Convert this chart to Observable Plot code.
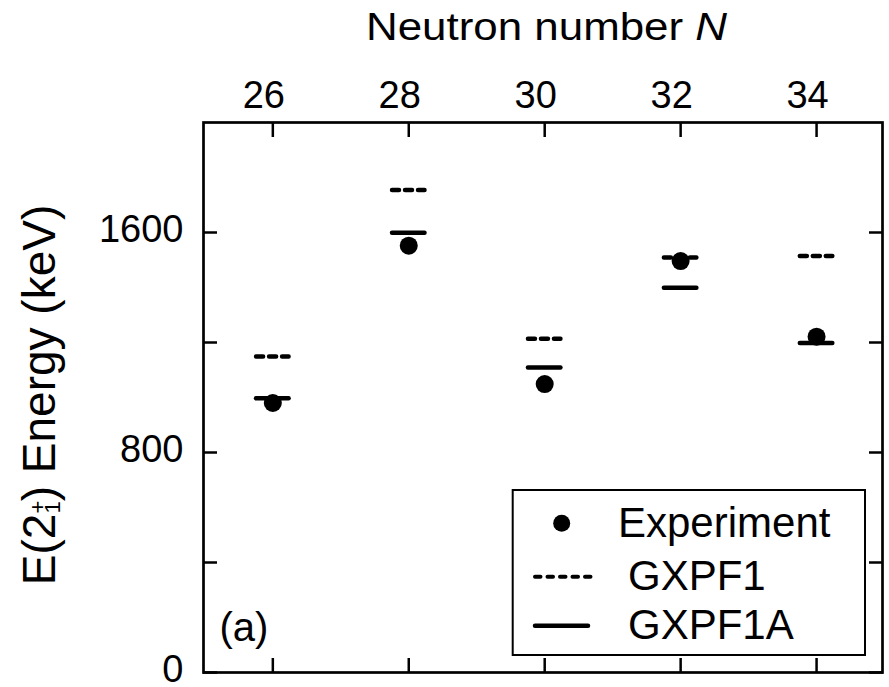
<!DOCTYPE html>
<html>
<head>
<meta charset="utf-8">
<script src="https://cdn.jsdelivr.net/npm/d3@7"></script>
<script src="https://cdn.jsdelivr.net/npm/@observablehq/plot@0.6"></script>
<style>
  html, body { margin: 0; padding: 0; background: #fff; }
  #chart svg { display: block; }
</style>
</head>
<body>
<div id="chart"></div>
<script>
// ---- data ----
const neutronNumbers = [26, 28, 30, 32, 34];
const experiment     = [980, 1552, 1049, 1496, 1221];
const gxpf1          = [1149, 1755, 1214, 1509, 1515];
const gxpf1a         = [997, 1599, 1109, 1399, 1198];
const xTicks         = [26, 28, 30, 32, 34];
const yTicks         = [0, 400, 800, 1200, 1600];
const yTickLabels    = [0, 800, 1600];
const legendLabels   = ["Experiment", "GXPF1", "GXPF1A"];
const panelLabel     = "(a)";

const rows = neutronNumbers.map((N, i) => ({N, exp: experiment[i], g1: gxpf1[i], g1a: gxpf1a[i]}));
const halfWidth = 0.239; // half length of a level bar, in N units

const FONT = "'Liberation Sans', Arial, Helvetica, sans-serif";

const chart = Plot.plot({
  width: 889,
  height: 687,
  marginTop: 122,
  marginLeft: 203,
  marginRight: 7,
  marginBottom: 15,
  style: {fontFamily: FONT, fontSize: "38px", color: "black", background: "white"},
  x: {domain: [24.98, 34.97], label: null},
  y: {domain: [0, 2000], label: null},
  marks: [
    Plot.frame({stroke: "black", strokeWidth: 2.7}),
    // inward ticks on all four sides
    Plot.axisX(xTicks, {anchor: "top", tickSize: -14, strokeWidth: 2.5, tickFormat: () => "", label: null}),
    Plot.axisX(xTicks, {anchor: "bottom", tickSize: -14, strokeWidth: 2.5, tickFormat: () => "", label: null}),
    Plot.axisY(yTicks, {anchor: "left", tickSize: -14, strokeWidth: 2.5, tickFormat: () => "", label: null}),
    Plot.axisY(yTicks, {anchor: "right", tickSize: -14, strokeWidth: 2.5, tickFormat: () => "", label: null}),
    // tick labels
    Plot.axisX(xTicks, {anchor: "top", tickSize: 0, tickPadding: 15, dx: -9, fontSize: 38, label: null, tickFormat: d => String(d)}),
    Plot.axisY(yTickLabels, {anchor: "left", tickSize: 0, tickPadding: 20, dy: -3, fontSize: 38, label: null, tickFormat: d => String(d)}),
    // GXPF1 (dashed)
    Plot.ruleY(rows, {
      y: "g1", x1: d => d.N - halfWidth, x2: d => d.N + halfWidth,
      stroke: "black", strokeWidth: 4.5, strokeDasharray: "7,6", strokeLinecap: "round"
    }),
    // GXPF1A (solid)
    Plot.ruleY(rows, {
      y: "g1a", x1: d => d.N - halfWidth, x2: d => d.N + halfWidth,
      stroke: "black", strokeWidth: 4.5, strokeLinecap: "round"
    }),
    // Experiment
    Plot.dot(rows, {x: "N", y: "exp", r: 9, fill: "black", stroke: "none"}),
    // panel label
    Plot.text([panelLabel], {
      text: d => d, frameAnchor: "bottom-left", dx: 16, dy: -32,
      textAnchor: "start", lineAnchor: "bottom", fontSize: 40, fill: "black"
    })
  ]
});

document.getElementById("chart").appendChild(chart);

const svg = d3.select(chart);

// Top axis title: "Neutron number N"
const topTitle = svg.append("text")
  .attr("transform", "translate(546.5,40) scale(1.155,1)")
  .attr("text-anchor", "middle")
  .attr("font-family", FONT)
  .attr("font-size", 38)
  .attr("fill", "black");
topTitle.append("tspan").text("Neutron number ");
topTitle.append("tspan").attr("font-style", "italic").text("N");

// Left axis title: E(2+1) Energy (keV)
const yTitle = svg.append("text")
  .attr("transform", "translate(55,395) rotate(-90)")
  .attr("text-anchor", "middle")
  .attr("font-family", FONT)
  .attr("font-size", 46)
  .attr("fill", "black");
yTitle.append("tspan").text("E(2");
yTitle.append("tspan").attr("font-size", 22).attr("dy", -10.5).text("+");
yTitle.append("tspan").attr("font-size", 22).attr("dx", -12.8).attr("dy", 15.5).text("1");
yTitle.append("tspan").attr("dy", -5).text(") Energy (keV)");

// Legend
const lg = svg.append("g")
  .attr("font-family", FONT).attr("font-size", 42).attr("fill", "black")
  .attr("text-anchor", "start");
lg.append("rect")
  .attr("x", 512.7).attr("y", 490).attr("width", 352.3).attr("height", 165)
  .attr("fill", "white").attr("stroke", "black").attr("stroke-width", 2);
lg.append("circle").attr("cx", 561.7).attr("cy", 523.3).attr("r", 8.5).attr("fill", "black");
lg.append("line")
  .attr("x1", 535).attr("x2", 591).attr("y1", 576.7).attr("y2", 576.7)
  .attr("stroke", "black").attr("stroke-width", 4)
  .attr("stroke-dasharray", "5.5,7").attr("stroke-linecap", "round");
lg.append("line")
  .attr("x1", 535).attr("x2", 588).attr("y1", 625.7).attr("y2", 625.7)
  .attr("stroke", "black").attr("stroke-width", 4.5).attr("stroke-linecap", "round");
lg.append("text").attr("x", 618).attr("y", 536.7).attr("text-anchor", "start").text(legendLabels[0]);
lg.append("text").attr("x", 628).attr("y", 590).attr("text-anchor", "start").text(legendLabels[1]);
lg.append("text").attr("x", 628).attr("y", 639).attr("text-anchor", "start").text(legendLabels[2]);
</script>
</body>
</html>
